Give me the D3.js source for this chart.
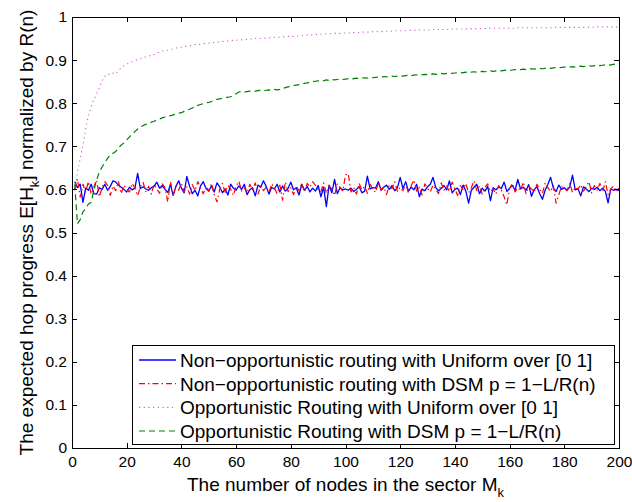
<!DOCTYPE html>
<html>
<head>
<meta charset="utf-8">
<script src="https://cdn.jsdelivr.net/npm/d3@7/dist/d3.min.js"></script>
<style>
  html, body { margin: 0; padding: 0; background: #fff; }
  svg { display: block; font-family: "Liberation Sans", Arial, Helvetica, sans-serif; }
</style>
</head>
<body>
<svg id="chart" width="632" height="502"></svg>
<script>
// Number of nodes in the sector (x axis)
const nodes = d3.range(1, 201);

// Non-opportunistic routing, Uniform over [0 1]
const nonOppUniform = [
  .618,.604,.612,.570,.603,.598,.612,.590,.589,.604,
  .600,.612,.598,.607,.620,.617,.610,.605,.600,.594,
  .605,.599,.603,.637,.602,.606,.601,.598,.604,.607,
  .617,.603,.609,.600,.593,.611,.586,.607,.620,.603,
  .592,.630,.607,.590,.598,.585,.608,.618,.602,.596,
  .608,.594,.615,.606,.592,.601,.587,.612,.603,.598,
  .608,.600,.612,.588,.599,.604,.585,.610,.605,.620,
  .607,.589,.605,.601,.612,.594,.608,.596,.602,.617,
  .599,.604,.587,.612,.598,.607,.594,.603,.596,.609,
  .583,.605,.560,.610,.592,.623,.590,.604,.599,.601,
  .598,.603,.595,.600,.606,.592,.596,.631,.601,.604,
  .603,.618,.598,.605,.610,.600,.609,.597,.604,.628,
  .602,.618,.596,.605,.599,.612,.583,.601,.597,.606,
  .612,.628,.604,.597,.602,.609,.599,.620,.592,.600,
  .603,.588,.610,.596,.568,.598,.605,.612,.590,.603,
  .596,.607,.574,.604,.599,.606,.602,.617,.595,.603,
  .609,.598,.623,.601,.605,.598,.611,.584,.600,.606,
  .590,.577,.598,.612,.628,.603,.595,.610,.600,.604,
  .598,.606,.633,.599,.602,.585,.606,.601,.595,.603,
  .600,.605,.597,.603,.596,.569,.601,.598,.600,.597
];

// Non-opportunistic routing, DSM p = 1-L/R(n)
const nonOppDSM = [
  .600,.624,.582,.612,.594,.618,.589,.606,.622,.583,
  .604,.618,.610,.586,.608,.597,.618,.590,.610,.600,
  .594,.614,.603,.585,.606,.616,.595,.607,.589,.612,
  .601,.591,.613,.604,.571,.618,.586,.607,.598,.614,
  .594,.606,.589,.611,.597,.618,.603,.590,.608,.596,
  .614,.588,.571,.600,.614,.593,.609,.601,.586,.607,
  .619,.596,.604,.591,.612,.599,.615,.589,.608,.597,
  .605,.592,.613,.603,.590,.610,.575,.617,.595,.604,
  .588,.608,.597,.614,.594,.614,.605,.618,.609,.599,
  .595,.615,.591,.608,.601,.586,.613,.604,.596,.633,
  .637,.594,.604,.589,.614,.599,.607,.591,.612,.601,
  .593,.616,.599,.606,.588,.610,.602,.618,.595,.605,
  .597,.614,.591,.608,.622,.596,.605,.587,.613,.602,
  .594,.610,.601,.590,.615,.598,.608,.595,.617,.601,
  .586,.609,.600,.614,.592,.604,.620,.597,.608,.589,
  .605,.613,.595,.601,.589,.609,.598,.583,.564,.602,
  .614,.594,.604,.597,.617,.590,.607,.601,.594,.612,
  .600,.591,.615,.604,.595,.609,.568,.588,.607,.602,
  .597,.614,.593,.605,.600,.611,.596,.606,.618,.592,
  .609,.598,.614,.594,.618,.588,.601,.608,.595,.603
];

// Opportunistic routing, Uniform over [0 1]
const oppUniform = [
  .600,.640,.672,.703,.740,.772,.792,.808,.822,.836,
  .852,.862,.868,.866,.870,.868,.876,.882,.887,.891,
  .893,.896,.899,.901,.903,.905,.908,.909,.912,.913,
  .916,.918,.921,.923,.923,.925,.926,.928,.929,.930,
  .931,.932,.933,.934,.936,.936,.937,.938,.939,.939,
  .940,.941,.942,.942,.943,.944,.944,.945,.946,.946,
  .947,.947,.948,.948,.949,.949,.950,.950,.950,.951,
  .951,.952,.952,.953,.953,.953,.954,.954,.955,.955,
  .955,.956,.956,.957,.957,.958,.958,.959,.959,.960,
  .960,.960,.961,.961,.961,.962,.962,.962,.963,.963,
  .963,.963,.964,.964,.964,.965,.965,.965,.965,.966,
  .966,.966,.966,.967,.967,.967,.967,.968,.968,.968,
  .968,.968,.969,.969,.969,.969,.970,.970,.970,.970,
  .970,.971,.971,.971,.971,.971,.971,.972,.972,.972,
  .972,.972,.972,.972,.973,.973,.973,.973,.973,.973,
  .973,.973,.974,.974,.974,.974,.974,.974,.974,.974,
  .974,.974,.975,.975,.975,.975,.975,.975,.975,.975,
  .975,.975,.975,.975,.975,.976,.976,.976,.976,.976,
  .976,.976,.976,.976,.976,.976,.976,.976,.976,.976,
  .977,.977,.977,.977,.977,.977,.977,.977,.977,.977
];

// Opportunistic routing, DSM p = 1-L/R(n)
const oppDSM = [
  .612,.520,.530,.548,.556,.566,.570,.598,.622,.640,
  .652,.662,.672,.680,.684,.688,.696,.703,.708,.715,
  .722,.728,.734,.740,.745,.748,.751,.752,.756,.758,
  .761,.763,.766,.768,.770,.771,.773,.775,.777,.778,
  .781,.784,.786,.789,.792,.795,.797,.799,.801,.802,
  .804,.807,.809,.810,.811,.812,.814,.815,.818,.822,
  .826,.827,.826,.827,.828,.829,.828,.829,.830,.829,
  .830,.831,.830,.832,.831,.832,.834,.836,.838,.840,
  .841,.842,.843,.844,.846,.847,.849,.850,.851,.852,
  .853,.852,.854,.853,.855,.854,.855,.856,.855,.856,
  .857,.856,.857,.858,.857,.858,.859,.858,.860,.859,
  .860,.861,.860,.862,.861,.862,.863,.862,.863,.864,
  .863,.864,.865,.864,.865,.866,.865,.866,.867,.866,
  .867,.868,.867,.868,.869,.868,.869,.870,.869,.870,
  .871,.870,.871,.872,.871,.872,.873,.872,.873,.874,
  .873,.874,.875,.874,.875,.876,.875,.876,.877,.876,
  .877,.878,.877,.878,.879,.878,.879,.880,.879,.880,
  .881,.880,.881,.882,.881,.882,.883,.882,.883,.884,
  .883,.884,.885,.884,.885,.886,.885,.886,.887,.886,
  .887,.888,.887,.888,.889,.888,.889,.890,.891,.892
];

const xTicks = [0, 20, 40, 60, 80, 100, 120, 140, 160, 180, 200];
const yTicks = [0, 0.1, 0.2, 0.3, 0.4, 0.5, 0.6, 0.7, 0.8, 0.9, 1];

const seriesNames = [
  "Non\u2212opportunistic routing with Uniform over [0 1]",
  "Non\u2212opportunistic routing with DSM p = 1\u2212L/R(n)",
  "Opportunistic Routing with Uniform over [0 1]",
  "Opportunistic Routing with DSM p = 1\u2212L/R(n)"
];

const styles = [
  { color: "#0000ff", width: 1.3, dash: null },
  { color: "#ff0000", width: 1.2, dash: "6,3,1.5,3" },
  { color: "#d060d0", width: 1.1, dash: "1.2,3.5" },
  { color: "#008000", width: 1.2, dash: "6,4" }
];

const seriesValues = [nonOppUniform, nonOppDSM, oppUniform, oppDSM];

// Plot box
const box = { left: 72, right: 619, top: 17, bottom: 448 };

const svg = d3.select("#chart");

const x = d3.scaleLinear().domain([0, 200]).range([box.left, box.right]);
const y = d3.scaleLinear().domain([0, 1]).range([box.bottom, box.top]);

svg.append("rect").attr("width", 632).attr("height", 502).attr("fill", "#fff");

svg.append("defs").append("clipPath").attr("id", "plotClip")
  .append("rect").attr("x", box.left).attr("y", box.top)
  .attr("width", box.right - box.left).attr("height", box.bottom - box.top);

// Data lines
const line = d3.line().x((d, i) => x(nodes[i])).y(d => y(d));
const plot = svg.append("g").attr("clip-path", "url(#plotClip)");
seriesValues.forEach((vals, k) => {
  const s = styles[k];
  plot.append("path")
    .datum(vals)
    .attr("d", line)
    .attr("fill", "none")
    .attr("stroke", s.color)
    .attr("stroke-width", s.width)
    .attr("stroke-linejoin", "round")
    .attr("stroke-dasharray", s.dash);
});

// Axes with inward ticks on all four sides
const tickFont = "15.5px";
const fmtY = d => d === 0 ? "0" : d === 1 ? "1" : d3.format(".1f")(d);

const gB = svg.append("g").attr("transform", `translate(0,${box.bottom})`)
  .call(d3.axisBottom(x).tickValues(xTicks).tickFormat(d3.format("d"))
    .tickSizeInner(-5).tickSizeOuter(0).tickPadding(8));
const gL = svg.append("g").attr("transform", `translate(${box.left},0)`)
  .call(d3.axisLeft(y).tickValues(yTicks).tickFormat(fmtY)
    .tickSizeInner(-5).tickSizeOuter(0).tickPadding(5));
const gT = svg.append("g").attr("transform", `translate(0,${box.top})`)
  .call(d3.axisTop(x).tickValues(xTicks).tickFormat("")
    .tickSizeInner(-5).tickSizeOuter(0));
const gR = svg.append("g").attr("transform", `translate(${box.right},0)`)
  .call(d3.axisRight(y).tickValues(yTicks).tickFormat("")
    .tickSizeInner(-5).tickSizeOuter(0));

[gB, gL, gT, gR].forEach(g => {
  g.select(".domain").remove();
  g.selectAll("line").attr("stroke", "#000").attr("shape-rendering", "crispEdges");
  g.selectAll("text").attr("fill", "#000").style("font-size", tickFont)
    .style("font-family", "'Liberation Sans', Arial, sans-serif");
});

svg.append("rect")
  .attr("x", box.left).attr("y", box.top)
  .attr("width", box.right - box.left).attr("height", box.bottom - box.top)
  .attr("fill", "none").attr("stroke", "#000").attr("stroke-width", 1)
  .attr("shape-rendering", "crispEdges");

// Axis labels
const xl = svg.append("text")
  .attr("x", (box.left + box.right) / 2).attr("y", 491)
  .attr("text-anchor", "middle")
  .style("font-size", "19px");
xl.append("tspan").text("The number of nodes in the sector M");
xl.append("tspan").attr("dy", 6).style("font-size", "13px").text("k");

const yl = svg.append("text")
  .attr("transform", `translate(33,${(box.top + box.bottom) / 2}) rotate(-90)`)
  .attr("text-anchor", "middle")
  .style("font-size", "19px");
yl.append("tspan").text("The expected hop progress E[H");
yl.append("tspan").attr("dy", 6).style("font-size", "13px").text("k");
yl.append("tspan").attr("dy", -6).text("] normalized by R(n)");

// Legend
const lg = { x0: 132, y0: 345, x1: 614, y1: 444 };
const legend = svg.append("g");
legend.append("rect")
  .attr("x", lg.x0).attr("y", lg.y0)
  .attr("width", lg.x1 - lg.x0).attr("height", lg.y1 - lg.y0)
  .attr("fill", "#fff").attr("stroke", "#000").attr("stroke-width", 1)
  .attr("shape-rendering", "crispEdges");

const rowY = d3.scaleLinear().domain([0, 3]).range([360, 431]);
seriesNames.forEach((name, k) => {
  const s = styles[k];
  const cy = rowY(k);
  legend.append("line")
    .attr("x1", 139).attr("x2", 176).attr("y1", cy).attr("y2", cy)
    .attr("stroke", s.color).attr("stroke-width", s.width)
    .attr("stroke-dasharray", s.dash);
  legend.append("text")
    .attr("x", 180).attr("y", cy + 7)
    .style("font-size", "19px")
    .text(name);
});
</script>
</body>
</html>
